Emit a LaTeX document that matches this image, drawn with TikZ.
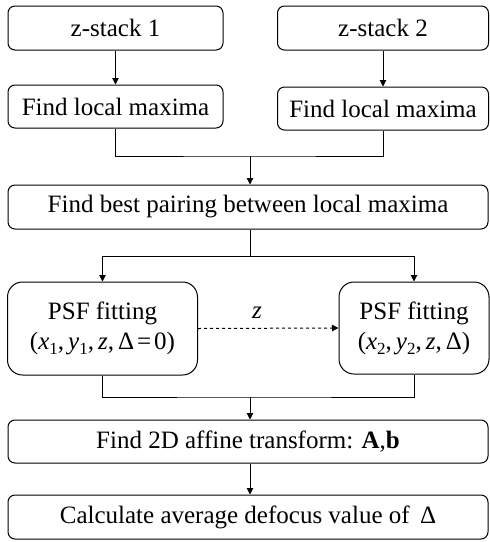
\documentclass[tikz,border=0pt]{standalone}
\usepackage{fontspec}
\setmainfont{Liberation Serif}
\usetikzlibrary{arrows.meta}
\newcommand{\mysub}[1]{\raisebox{-0.45ex}{\fontsize{17}{17}\selectfont #1}}
\begin{document}
\begin{tikzpicture}[x=1pt,y=-1pt,
  box/.style={draw,line width=1pt,rounded corners=7pt,inner sep=0pt,align=center,font=\fontsize{25}{29}\selectfont},
  bigbox/.style={box,rounded corners=15pt},
  arr/.style={line width=1pt,-{Triangle[length=6.5pt,width=6.5pt]}},
  ln/.style={line width=1pt}]
\useasboundingbox (0,0) rectangle (490,542);
\node[box,minimum width=215pt,minimum height=44pt] (zs1) at (115.5,28) {z-stack 1};
\node[box,minimum width=211pt,minimum height=44pt] (zs2) at (383,28) {z-stack 2};
\node[box,minimum width=215pt,minimum height=43pt] (lm1) at (115.5,106.5) {Find local maxima};
\node[box,minimum width=211pt,minimum height=43pt] (lm2) at (383,108.5) {Find local maxima};
\node[box,minimum width=480pt,minimum height=44pt] (pair) at (248,207) {Find best pairing between local maxima};
\node[bigbox,minimum width=190pt,minimum height=93pt] (psf1) at (102.5,328.5) {PSF fitting\\[1pt](\textit{x}\mysub{1},\hspace{4pt}\textit{y}\mysub{1},\hspace{4pt}\textit{z},\hspace{4pt}Δ\hspace{3pt}=\hspace{3pt}0)};
\node[bigbox,minimum width=150pt,minimum height=92pt] (psf2) at (414,328) {PSF fitting\\[1pt](\textit{x}\mysub{2},\hspace{4pt}\textit{y}\mysub{2},\hspace{4pt}\textit{z},\hspace{4pt}Δ)};
\node[box,minimum width=480pt,minimum height=43pt] (aff) at (248,441.5) {Find 2D affine transform: \textbf{A},\textbf{b}};
\node[box,minimum width=480pt,minimum height=44pt] (calc) at (248,517) {Calculate average defocus value of \,Δ};
\coordinate (j1) at (250,156);
\coordinate (j2) at (250,256);
\coordinate (j3) at (250,397);
\draw[arr] (zs1) -- (lm1);
\draw[arr] (zs2) -- (lm2);
\draw[ln] (lm1.south) |- (j1) -| (lm2.south);
\draw[arr] (j1) -- (j1 |- pair.north);
\draw[ln] (j2 |- pair.south) -- (j2);
\draw[arr] (j2) -| (psf1.north);
\draw[arr] (j2) -| (psf2.north);
\draw[arr,dashed] (psf1.east) -- (psf2.west);
\node[font=\fontsize{25}{29}\selectfont\itshape] (zl) at (257,313) {z};
\draw[ln] (psf1.south) |- (j3) -| (psf2.south);
\draw[arr] (j3) -- (j3 |- aff.north);
\draw[arr] (j3 |- aff.south) -- (j3 |- calc.north);
\end{tikzpicture}
\end{document}
